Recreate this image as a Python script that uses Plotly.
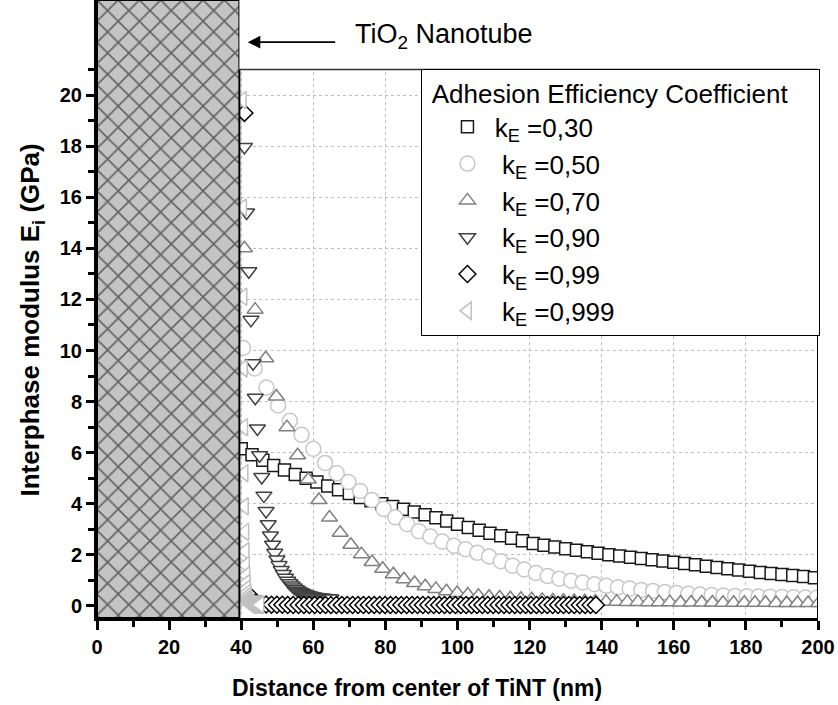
import plotly.graph_objects as go

# ---------------- data ----------------
x_k030 = [40, 43, 46, 49, 52, 55, 58, 61, 64, 67, 70, 73, 76, 79, 82, 85, 88, 91, 94, 97,
          100, 103, 106, 109, 112, 115, 118, 121, 124, 127, 130, 133, 136, 139, 142, 145,
          148, 151, 154, 157, 160, 163, 166, 169, 172, 175, 178, 181, 184, 187, 190, 193, 196, 199]
y_k030 = [6.15, 5.92, 5.70, 5.50, 5.32, 5.15, 5.00, 4.85, 4.70, 4.55, 4.40, 4.25, 4.12, 4.00,
          3.89, 3.79, 3.68, 3.57, 3.45, 3.33, 3.20, 3.07, 2.96, 2.85, 2.75, 2.65, 2.55, 2.45,
          2.38, 2.31, 2.24, 2.18, 2.12, 2.06, 2.01, 1.96, 1.91, 1.86, 1.81, 1.76, 1.71, 1.66,
          1.61, 1.56, 1.51, 1.46, 1.41, 1.36, 1.31, 1.27, 1.23, 1.19, 1.15, 1.11]

x_k050 = [40.5, 43.75, 47, 50.25, 53.5, 56.75, 60, 63.25, 66.5, 69.75, 73, 76.25, 79.5, 82.75,
          86, 89.25, 92.5, 95.75, 99, 102.25, 105.5, 108.75, 112, 115.25, 118.5, 121.75, 125,
          128.25, 131.5, 134.75, 138, 141.25, 144.5, 147.75, 151, 154.25, 157.5, 160.75, 164,
          167.25, 170.5, 173.75, 177, 180.25, 183.5, 186.75, 190, 193.25, 196.5, 199.75]
y_k050 = [10.1, 9.3, 8.55, 7.85, 7.25, 6.7, 6.15, 5.6, 5.2, 4.85, 4.5, 4.15, 3.8, 3.47, 3.2,
          2.93, 2.72, 2.52, 2.36, 2.22, 2.08, 1.94, 1.75, 1.58, 1.43, 1.29, 1.17, 1.07, 0.99,
          0.92, 0.85, 0.79, 0.73, 0.68, 0.63, 0.59, 0.55, 0.51, 0.48, 0.45, 0.43, 0.41, 0.39,
          0.38, 0.37, 0.36, 0.35, 0.34, 0.33, 0.33]

x_k070 = [40.9, 43.85, 46.8, 49.75, 52.7, 55.65, 58.6, 61.55, 64.5, 67.45, 70.4, 73.35, 76.3,
          79.25, 82.2, 85.15, 88.1, 91.05, 94.0, 96.95, 99.9, 102.85, 105.8, 108.75, 111.7,
          114.65, 117.6, 120.55, 123.5, 126.45, 129.4, 132.35, 135.3, 138.25, 141.2, 144.15,
          147.1, 150.05, 153.0, 155.95, 158.9, 161.85, 164.8, 167.75, 170.7, 173.65, 176.6,
          179.55, 182.5, 185.45, 188.4, 191.35, 194.3, 197.25, 200.2]
y_k070 = [14.0, 11.6, 9.7, 8.2, 7.0, 5.9, 4.95, 4.15, 3.46, 2.87, 2.40, 2.03, 1.72, 1.46, 1.24,
          1.05, 0.90, 0.77, 0.67, 0.58, 0.51, 0.45, 0.40, 0.36, 0.33, 0.30, 0.28, 0.26, 0.24,
          0.22, 0.21, 0.20, 0.19, 0.18, 0.17, 0.17, 0.16, 0.16, 0.15, 0.15, 0.15, 0.14, 0.14,
          0.14, 0.14, 0.13, 0.13, 0.13, 0.13, 0.13, 0.12, 0.12, 0.12, 0.12, 0.12]

x_k090 = [40.9, 41.5, 42.1, 42.7, 43.3, 43.9, 44.5, 45.1, 45.7, 46.3, 46.9, 47.5, 48.1, 48.7,
          49.3, 49.9, 50.5, 51.1, 51.7, 52.3, 52.9, 53.5, 54.1, 54.7, 55.3, 55.9, 56.5, 57.1,
          57.7, 58.3, 58.9, 59.5, 60.1, 60.7, 61.3, 61.9, 62.5, 63.1, 63.7, 64.3, 64.9]
y_k090 = [17.97, 15.4, 13.1, 11.2, 9.5, 8.15, 6.95, 5.9, 5.05, 4.32, 3.72, 3.2, 2.76, 2.4,
          2.08, 1.82, 1.60, 1.41, 1.25, 1.11, 0.99, 0.89, 0.80, 0.72, 0.66, 0.60, 0.55, 0.51,
          0.47, 0.44, 0.41, 0.39, 0.37, 0.35, 0.34, 0.33, 0.32, 0.31, 0.30, 0.30, 0.29]

x_k099 = [40.9, 42.4, 43.9, 45.4, 46.9, 48.4, 49.9, 51.4, 52.9, 54.4, 55.9, 57.4, 58.9, 60.4,
          61.9, 63.4, 64.9, 66.4, 67.9, 69.4, 70.9, 72.4, 73.9, 75.4, 76.9, 78.4, 79.9, 81.4,
          82.9, 84.4, 85.9, 87.4, 88.9, 90.4, 91.9, 93.4, 94.9, 96.4, 97.9, 99.4, 100.9, 102.4,
          103.9, 105.4, 106.9, 108.4, 109.9, 111.4, 112.9, 114.4, 115.9, 117.4, 118.9, 120.4,
          121.9, 123.4, 124.9, 126.4, 127.9, 129.4, 130.9, 132.4, 133.9, 135.4, 136.9, 138.4]
y_k099 = [19.3, 0.40, 0.12, 0.07, 0.06, 0.05, 0.05, 0.05, 0.04, 0.04, 0.04, 0.04, 0.04, 0.04,
          0.04, 0.04, 0.04, 0.04, 0.04, 0.04, 0.04, 0.04, 0.04, 0.04, 0.04, 0.04, 0.04, 0.04,
          0.04, 0.04, 0.04, 0.04, 0.04, 0.04, 0.04, 0.04, 0.04, 0.04, 0.04, 0.04, 0.04, 0.04,
          0.04, 0.04, 0.04, 0.04, 0.04, 0.04, 0.04, 0.04, 0.04, 0.04, 0.04, 0.04, 0.04, 0.04,
          0.04, 0.04, 0.04, 0.04, 0.04, 0.04, 0.04, 0.04, 0.04, 0.04]

x_k0999 = [40.3, 40.4, 40.5, 40.6, 40.7, 40.8, 40.9, 41.0, 41.1, 41.2, 41.3, 41.4, 41.5, 41.6,
           41.7, 41.8, 41.9, 42.0, 42.1, 42.2, 42.3, 42.4, 42.5, 42.6, 42.7, 42.8, 42.9, 43.0,
           43.1, 43.2, 43.3, 43.4, 43.5, 43.6, 43.7, 43.8, 43.9, 44.0, 44.1, 44.2, 44.3, 44.4,
           44.5, 44.6, 44.7, 44.8, 44.9, 45.0, 45.1, 45.2]
y_k0999 = [19.8, 15.6, 12.1, 9.3, 7.0, 5.2, 3.9, 2.9, 2.15, 1.6, 1.2, 0.9, 0.68, 0.52, 0.40,
           0.31, 0.25, 0.20, 0.16, 0.13, 0.11, 0.09, 0.08, 0.07, 0.06, 0.05, 0.05, 0.05, 0.05,
           0.05, 0.05, 0.05, 0.05, 0.05, 0.05, 0.05, 0.05, 0.05, 0.05, 0.05, 0.05, 0.05, 0.05,
           0.05, 0.05, 0.05, 0.05, 0.05, 0.05, 0.05]

NB = "\u00a0"
series_names = [NB + "k<sub>E</sub> =0,30", NB * 2 + "k<sub>E</sub> =0,50", NB * 2 + "k<sub>E</sub> =0,70",
                NB * 2 + "k<sub>E</sub> =0,90", NB * 2 + "k<sub>E</sub> =0,99", NB * 2 + "k<sub>E</sub> =0,999"]
legend_title = "Adhesion Efficiency Coefficient"

tube_radius = 39.5          # TiO2 nanotube wall (nm)
x_ticks = [0, 20, 40, 60, 80, 100, 120, 140, 160, 180, 200]
x_minor = [10, 30, 50, 70, 90, 110, 130, 150, 170, 190]
y_ticks = [0, 2, 4, 6, 8, 10, 12, 14, 16, 18, 20]
y_minor = [1, 3, 5, 7, 9, 11, 13, 15, 17, 19, 21]

X_RANGE = [0, 200]
Y_RANGE = [-0.47, 23.72]
FRAME_TOP = 21

FONT = "Arial, Liberation Sans, sans-serif"

series = [
    (x_k030, y_k030, "square", 12, "#1a1a1a"),
    (x_k050, y_k050, "circle", 15, "#c8c8c8"),
    (x_k070, y_k070, "triangle-up", 14, "#808080"),
    (x_k090, y_k090, "triangle-down", 14, "#404040"),
    (x_k099, y_k099, "diamond", 13, "#000000"),
    (x_k0999, y_k0999, "triangle-left", 15, "#c0c0c0"),
]

fig = go.Figure()
for i, (xs, ys, sym, sz, col) in enumerate(series):
    fig.add_trace(go.Scatter(
        x=xs, y=ys, mode="markers", name=series_names[i], legendgroup=f"g{i}",
        marker=dict(symbol=sym, size=sz, color="white", line=dict(color=col, width=1.5)),
    ))

# hatched nanotube region (drawn on top of markers)
fig.add_trace(go.Scatter(
    x=[0, tube_radius, tube_radius, 0, 0],
    y=[Y_RANGE[0], Y_RANGE[0], Y_RANGE[1], Y_RANGE[1], Y_RANGE[0]],
    mode="lines", fill="toself", showlegend=False, hoverinfo="skip",
    line=dict(color="black", width=2),
    fillcolor="#c4c4c4",
    fillpattern=dict(shape="x", fgcolor="black", bgcolor="#c4c4c4", size=15, solidity=0.2),
))

# white cover above the frame, then frame lines
fig.add_shape(type="rect", xref="x", yref="y", x0=tube_radius, x1=X_RANGE[1] + 5,
              y0=FRAME_TOP, y1=Y_RANGE[1] + 1, fillcolor="white", line=dict(width=0), layer="above")
fig.add_shape(type="line", xref="x", yref="y", x0=tube_radius, x1=X_RANGE[1],
              y0=FRAME_TOP, y1=FRAME_TOP, line=dict(color="#333333", width=1.5), layer="above")
fig.add_shape(type="line", xref="x", yref="y", x0=X_RANGE[1], x1=X_RANGE[1],
              y0=Y_RANGE[0], y1=FRAME_TOP, line=dict(color="black", width=2), layer="above")

# arrow + label
fig.add_annotation(x=41.8, y=22.07, xref="x", yref="y", ax=89, ay=0, axref="pixel", ayref="pixel",
                   text="", showarrow=True, arrowhead=2, arrowsize=1.4, arrowwidth=1.8, arrowcolor="black")
fig.add_annotation(x=71.0, y=22.3, xref="x", yref="y", xanchor="left", yanchor="middle",
                   text="TiO<sub>2</sub> Nanotube", showarrow=False,
                   font=dict(family=FONT, size=27, color="black"))

# axis titles
fig.add_annotation(x=0.4434, y=-0.113, xref="paper", yref="paper", xanchor="center", yanchor="middle",
                   text="Distance from center of TiNT (nm)", showarrow=False,
                   font=dict(family=FONT, size=23, color="black", weight="bold"))
fig.add_annotation(x=-0.091, y=0.482, xref="paper", yref="paper", xanchor="center", yanchor="middle",
                   text="Interphase modulus E<sub>i</sub> (GPa)", showarrow=False, textangle=-90,
                   font=dict(family=FONT, size=26, color="black", weight="bold"))

fig.update_layout(
    width=838, height=705,
    margin=dict(l=97, r=20, t=0, b=87),
    paper_bgcolor="white", plot_bgcolor="white",
    font=dict(family=FONT, color="black"),
    showlegend=True,
    legend=dict(
        x=0.45, y=0.889, xanchor="left", yanchor="top",
        bgcolor="white", bordercolor="black", borderwidth=1,
        font=dict(family=FONT, size=26, color="black"),
        title=dict(text=NB + legend_title + NB * 4, font=dict(family=FONT, size=26)),
        tracegroupgap=0, indentation=25,
    ),
    xaxis=dict(
        range=X_RANGE, tickvals=x_ticks, ticks="outside", ticklen=9, tickwidth=3, tickcolor="black",
        showline=True, linewidth=3, linecolor="black", zeroline=False,
        showgrid=True, gridcolor="#c0c0c0", griddash="dot", gridwidth=1,
        minor=dict(tickvals=x_minor, ticks="outside", ticklen=6, tickwidth=3, tickcolor="black", showgrid=False),
        tickfont=dict(family=FONT, size=20, color="black", weight="bold"),
    ),
    yaxis=dict(
        range=Y_RANGE, tickvals=y_ticks, ticks="outside", ticklen=8, tickwidth=3, tickcolor="black",
        showline=True, linewidth=3, linecolor="black", zeroline=False,
        showgrid=True, gridcolor="#c0c0c0", griddash="dot", gridwidth=1,
        minor=dict(tickvals=y_minor, ticks="outside", ticklen=6, tickwidth=3, tickcolor="black", showgrid=False),
        tickfont=dict(family=FONT, size=20, color="black", weight="bold"),
    ),
)

fig.write_html("out.html")
